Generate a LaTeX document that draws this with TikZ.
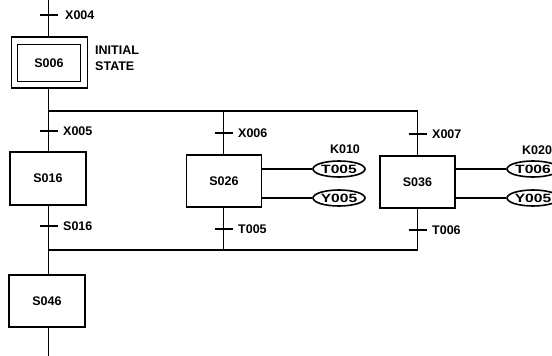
\documentclass[tikz,border=0pt]{standalone}
\usepackage{fontspec}
\setmainfont{Liberation Sans}
\usetikzlibrary{shapes.geometric}
\tikzset{
  wire/.style={line width=1.6pt},
  stepbox/.style={draw, line width=1.6pt, minimum width=75pt, minimum height=52pt, inner sep=0pt, font=\fontsize{12.5}{14}\selectfont\bfseries},
  lbl/.style={anchor=west, inner sep=0pt, font=\fontsize{12.5}{16}\selectfont\bfseries},
  coil/.style={draw, ellipse, line width=1.6pt, minimum width=52pt, minimum height=16pt, inner sep=0pt, font=\fontsize{12}{12}\selectfont\bfseries},
}
\newcommand{\tick}[1]{\draw[wire] ([xshift=-9pt]#1) -- ([xshift=9pt]#1);}
\newcommand{\wide}[1]{\scalebox{1.3}[1]{#1}}
\begin{document}
\begin{tikzpicture}[x=1pt,y=-1pt]
\useasboundingbox (0,0) rectangle (552,356);
\clip (0,0) rectangle (552,356);
% main column
\coordinate (top) at (48.5,0);
\coordinate (t0) at (48.5,15);
\node[draw, line width=1.6pt, minimum width=76pt, minimum height=51pt, inner sep=0pt] (initout) at (49.5,62.5) {};
\node[draw, line width=1.6pt, minimum width=63pt, minimum height=37pt, inner sep=0pt, font=\fontsize{12.5}{14}\selectfont\bfseries] (init) at (49,63) {S006};
\node[lbl, align=left, anchor=north west] (initlbl) at (95,46) {INITIAL\\STATE};
\node[lbl] (lx4) at (65,15) {X004};
\draw[wire] (top) -- (initout.north -| top);
\tick{t0}

\coordinate (ja) at (48.5,111);
\coordinate (jb) at (223.5,111);
\coordinate (jc) at (417.5,111);
\draw[wire] (initout.south -| top) -- (ja);
\draw[wire] (ja) -- (jc);

% branch 1
\coordinate (t1) at (48.5,131);
\node[stepbox, minimum width=76pt, minimum height=53pt] (s016) at (48,178.5) {S016};
\coordinate (t2) at (48.5,226);
\node[lbl] (lx5) at (63,131) {X005};
\node[lbl] (ls16) at (63,226) {S016};
\draw[wire] (ja) -- (s016.north -| ja);
\tick{t1}
\coordinate (ka) at (48.5,250);
\draw[wire] (s016.south -| ja) -- (ka);
\tick{t2}

% branch 2
\coordinate (t3) at (223.5,133);
\node[stepbox] (s026) at (224,181) {S026};
\coordinate (t4) at (223.5,229);
\coordinate (kb) at (223.5,250);
\node[lbl] (lx6) at (238,133) {X006};
\node[lbl] (lt5) at (238,229) {T005};
\draw[wire] (jb) -- (s026.north -| jb);
\draw[wire] (s026.south -| jb) -- (kb);
\tick{t3}
\tick{t4}
\node[coil] (c1) at (339,169) {\wide{T005}};
\node[coil] (c2) at (339,198) {\wide{Y005}};
\node[lbl, anchor=center] (k1) at (345,149) {K010};
\draw[wire] (s026.east |- c1) -- (c1.west);
\draw[wire] (s026.east |- c2) -- (c2.west);

% branch 3
\coordinate (t5) at (417.5,134);
\node[stepbox] (s036) at (417.5,182) {S036};
\coordinate (t6) at (417.5,230);
\coordinate (kc) at (417.5,250);
\node[lbl] (lx7) at (432,134) {X007};
\node[lbl] (lt6) at (432,230) {T006};
\draw[wire] (jc) -- (s036.north -| jc);
\draw[wire] (s036.south -| jc) -- (kc);
\tick{t5}
\tick{t6}
\node[coil] (c3) at (533,169) {\wide{T006}};
\node[coil] (c4) at (533,198) {\wide{Y005}};
\node[lbl] (k2) at (522,150) {K020};
\draw[wire] (s036.east |- c3) -- (c3.west);
\draw[wire] (s036.east |- c4) -- (c4.west);

% join
\draw[wire] (ka) -- (kc);
\node[stepbox, minimum width=76pt, minimum height=52pt] (s046) at (47,301) {S046};
\coordinate (bot) at (48.5,356);
\draw[wire] (ka) -- (s046.north -| ka);
\draw[wire] (s046.south -| ka) -- (bot);
\end{tikzpicture}
\end{document}
